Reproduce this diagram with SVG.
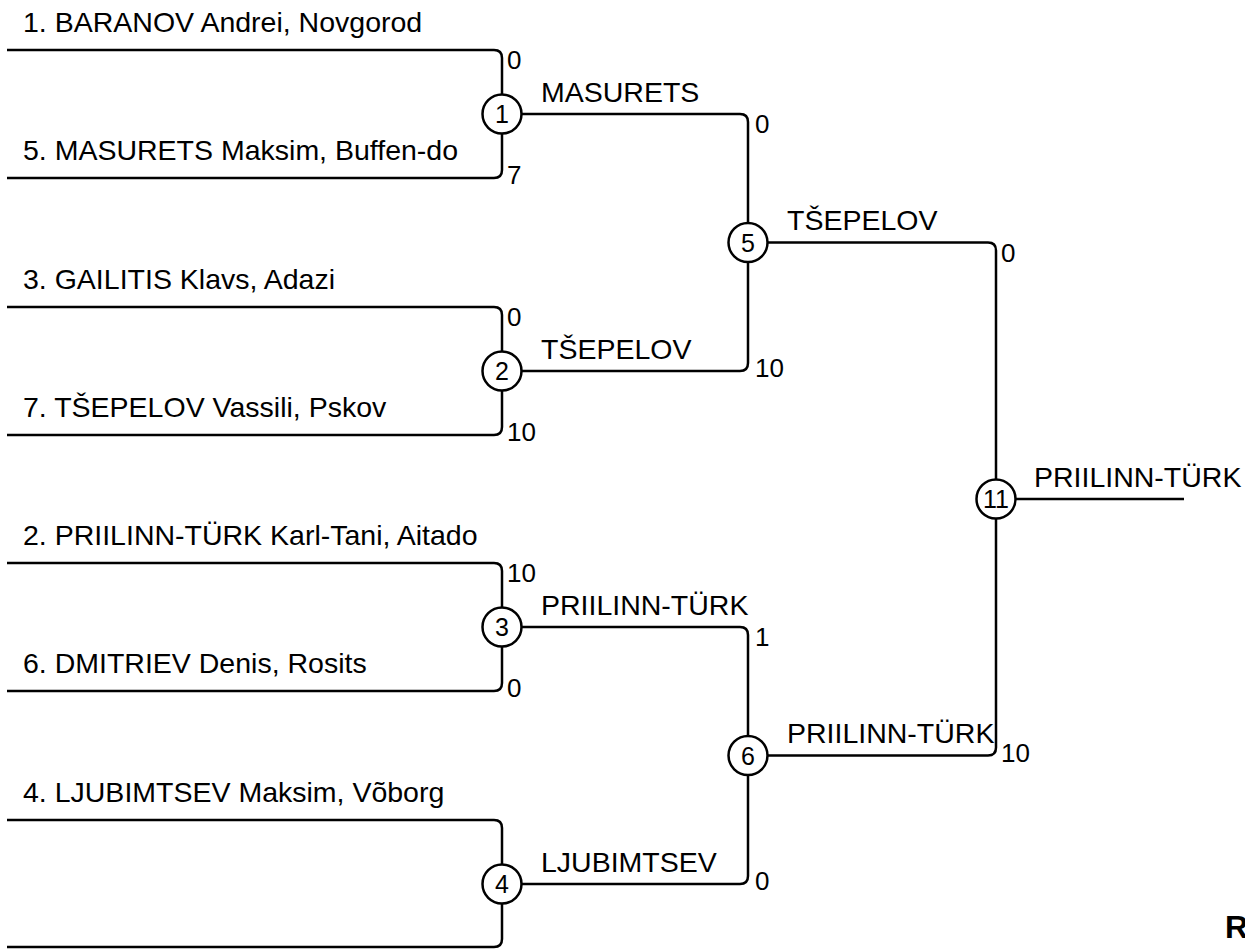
<svg xmlns="http://www.w3.org/2000/svg" width="1245" height="949" viewBox="0 0 1245 949">
<style>
  .ln{fill:none;stroke:#000;stroke-width:2.5}
  .nd{fill:#fff;stroke:#000;stroke-width:2.5}
  .nn{font-family:"Liberation Sans",Arial,sans-serif;font-size:25px;text-anchor:middle;fill:#000}
  .lb{font-family:"Liberation Sans",Arial,sans-serif;font-size:28.5px;fill:#000}
  .sc{font-family:"Liberation Sans",Arial,sans-serif;font-size:26px;fill:#000}
  .bd{font-family:"Liberation Sans",Arial,sans-serif;font-size:32px;font-weight:bold;fill:#000}
</style>
<rect width="1245" height="949" fill="#fff"/>
<g id="connectors" class="ln">
  <path d="M7,50 H494 Q502,50 502,58 V94.5"/>
  <path d="M7,178 H494 Q502,178 502,170 V133.5"/>
  <path d="M7,307 H494 Q502,307 502,315 V351.5"/>
  <path d="M7,435 H494 Q502,435 502,427 V390.5"/>
  <path d="M7,563 H494 Q502,563 502,571 V607.5"/>
  <path d="M7,691 H494 Q502,691 502,683 V646.5"/>
  <path d="M7,820 H494 Q502,820 502,828 V864.5"/>
  <path d="M7,947 H494 Q502,947 502,939 V903.5"/>
  <path d="M521.5,114 H740 Q748,114 748,122 V223"/>
  <path d="M521.5,371 H740 Q748,371 748,363 V262"/>
  <path d="M521.5,627 H740 Q748,627 748,635 V736"/>
  <path d="M521.5,884 H740 Q748,884 748,876 V775"/>
  <path d="M767.5,242.5 H988 Q996,242.5 996,250.5 V479.5"/>
  <path d="M767.5,755.5 H988 Q996,755.5 996,747.5 V518.5"/>
  <path d="M1015.5,499 H1184"/>
</g>
<g id="node1"><circle class="nd" cx="502" cy="114" r="19.5"/><text class="nn" x="502" y="123">1</text></g>
<g id="node2"><circle class="nd" cx="502" cy="371" r="19.5"/><text class="nn" x="502" y="380">2</text></g>
<g id="node3"><circle class="nd" cx="502" cy="627" r="19.5"/><text class="nn" x="502" y="636">3</text></g>
<g id="node4"><circle class="nd" cx="502" cy="884" r="19.5"/><text class="nn" x="502" y="893">4</text></g>
<g id="node5"><circle class="nd" cx="748" cy="242.5" r="19.5"/><text class="nn" x="748" y="251.5">5</text></g>
<g id="node6"><circle class="nd" cx="748" cy="755.5" r="19.5"/><text class="nn" x="748" y="764.5">6</text></g>
<g id="node11"><circle class="nd" cx="996" cy="499" r="19.5"/><text class="nn" x="996" y="508">11</text></g>
<g id="entrants">
  <text class="lb" x="23" y="32">1. BARANOV Andrei, Novgorod</text>
  <text class="lb" x="23" y="160">5. MASURETS Maksim, Buffen-do</text>
  <text class="lb" x="23" y="289">3. GAILITIS Klavs, Adazi</text>
  <text class="lb" x="23" y="417">7. TŠEPELOV Vassili, Pskov</text>
  <text class="lb" x="23" y="545">2. PRIILINN-TÜRK Karl-Tani, Aitado</text>
  <text class="lb" x="23" y="673">6. DMITRIEV Denis, Rosits</text>
  <text class="lb" x="23" y="802">4. LJUBIMTSEV Maksim, Võborg</text>
</g>
<g id="winners">
  <text class="lb" x="541" y="102">MASURETS</text>
  <text class="lb" x="541" y="359">TŠEPELOV</text>
  <text class="lb" x="541" y="615">PRIILINN-TÜRK</text>
  <text class="lb" x="541" y="872">LJUBIMTSEV</text>
  <text class="lb" x="787" y="230">TŠEPELOV</text>
  <text class="lb" x="787" y="743">PRIILINN-TÜRK</text>
  <text class="lb" x="1034" y="487">PRIILINN-TÜRK</text>
</g>
<g id="scores">
  <text class="sc" x="507" y="69">0</text>
  <text class="sc" x="507" y="184">7</text>
  <text class="sc" x="507" y="326">0</text>
  <text class="sc" x="507" y="441">10</text>
  <text class="sc" x="507" y="582">10</text>
  <text class="sc" x="507" y="697">0</text>
  <text class="sc" x="755" y="133">0</text>
  <text class="sc" x="755" y="377">10</text>
  <text class="sc" x="755" y="646">1</text>
  <text class="sc" x="755" y="890">0</text>
  <text class="sc" x="1001" y="262">0</text>
  <text class="sc" x="1001" y="762">10</text>
</g>
<text class="bd" x="1225" y="938">R</text>
</svg>
